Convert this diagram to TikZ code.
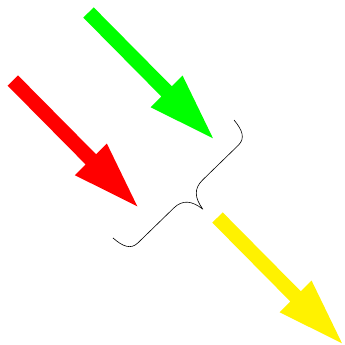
\documentclass[tikz,border=0pt]{standalone}
\tikzset{
  pics/fatarrow/.style={code={
    \fill[#1] (0,-7.3) -- (111,-7.3) -- (111,-22.5) -- (177,0)
      -- (111,22.5) -- (111,7.3) -- (0,7.3) -- cycle;
  }},
  bracestyle/.style={draw=black, line width=0.6pt, line join=round}
}
\begin{document}
\begin{tikzpicture}[x=1pt,y=1pt]
\useasboundingbox (0,0) rectangle (345,-345);
\pic[rotate=-45.3] at (12.8,-80.5) {fatarrow=red};
\pic[rotate=-45.3] at (88.5,-12.5) {fatarrow=green};
\pic[rotate=-45.3] at (217.5,-217.5) {fatarrow=yellow};
\begin{scope}[shift={(173.5,-179)}, rotate=224.2]
\draw[bracestyle] (-84.5,0) .. controls (-83.5,13) and (-80,21) .. (-70,21)
  -- (-20,21) .. controls (-8,21) and (-2,28) .. (0,42)
  .. controls (2,28) and (8,21) .. (20,21)
  -- (70,21) .. controls (80,21) and (83.5,13) .. (84.5,0);
\end{scope}
\end{tikzpicture}
\end{document}
